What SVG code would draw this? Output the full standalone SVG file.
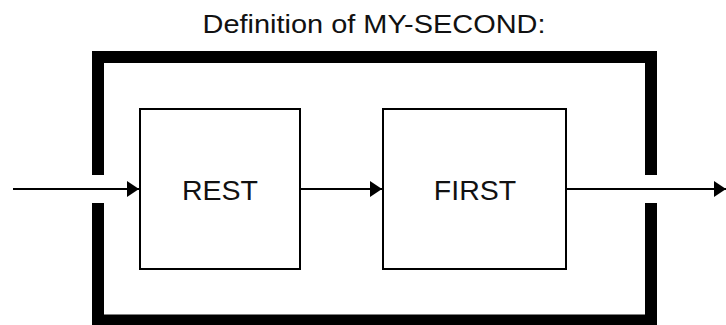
<svg xmlns="http://www.w3.org/2000/svg" width="726" height="325" viewBox="0 0 726 325">
<style>
.frame{fill:none;stroke:#000;stroke-width:12;stroke-linecap:butt;stroke-linejoin:miter}
.box{fill:#fff;stroke:#000;stroke-width:2}
.lbl{font-family:"Liberation Sans",Arial,sans-serif;font-size:28.5px;fill:#111;text-anchor:middle}
.title{font-family:"Liberation Sans",Arial,sans-serif;font-size:26.5px;fill:#111;text-anchor:middle}
.conn{fill:none;stroke:#000;stroke-width:2}
</style>
<defs>
<marker id="arr" markerWidth="12" markerHeight="16" refX="12" refY="8" orient="auto" markerUnits="userSpaceOnUse">
<path d="M0,0 L12,8 L0,16 Z" fill="#000"/>
</marker>
</defs>
<rect width="726" height="325" fill="#fff"/>
<text class="title" x="374" y="33" textLength="343" lengthAdjust="spacingAndGlyphs">Definition of MY-SECOND:</text>
<g id="frame">
<path class="frame" d="M98,175 L98,57 L651,57 L651,175"/>
<path class="frame" d="M98,203 L98,320.5 L651,320.5 L651,203"/>
</g>
<g id="connectors">
<line class="conn" x1="13" y1="189" x2="139" y2="189" marker-end="url(#arr)"/>
<line class="conn" x1="300" y1="189" x2="382" y2="189" marker-end="url(#arr)"/>
<line class="conn" x1="566" y1="189" x2="726" y2="189" marker-end="url(#arr)"/>
</g>
<g id="rest">
<rect class="box" x="140" y="109" width="160" height="160"/>
<text class="lbl" x="220" y="200">REST</text>
</g>
<g id="first">
<rect class="box" x="383" y="109" width="183" height="160"/>
<text class="lbl" x="475" y="200">FIRST</text>
</g>
</svg>
